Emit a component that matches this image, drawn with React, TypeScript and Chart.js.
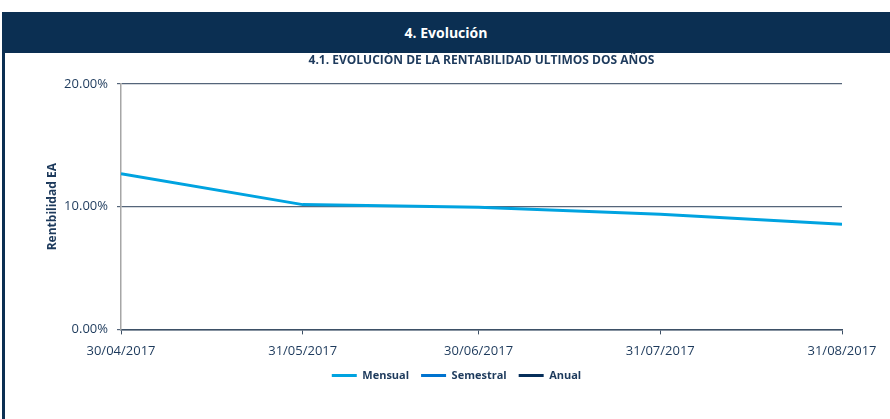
import React, { useEffect, useRef } from "react";
import { Chart, registerables } from "chart.js";

Chart.register(...registerables);

const dateLabels = ["30/04/2017", "31/05/2017", "30/06/2017", "31/07/2017", "31/08/2017"];
const mensual = [12.68, 10.17, 9.95, 9.38, 8.56];
const semestral: (number | null)[] = [null, null, null, null, null];
const anual: (number | null)[] = [null, null, null, null, null];
const yTicks = [0, 10, 20];

const NAVY = "#0b2f52";
const TEXT = "#1d3a5c";
const FONT = "'Open Sans', sans-serif";

function parseDate(s: string) {
  const [d, m, y] = s.split("/").map(Number);
  return Date.UTC(y, m - 1, d);
}
const day0 = parseDate(dateLabels[0]);
const dayX = dateLabels.map((s) => Math.round((parseDate(s) - day0) / 86400000));

const legendShift = {
  id: "legendShift",
  afterLayout(chart: any) {
    if (chart.legend) {
      chart.legend.left += 15;
      chart.legend.right += 15;
      chart.legend.top -= 10;
      chart.legend.bottom -= 10;
    }
  },
};

export default function App() {
  const ref = useRef<HTMLCanvasElement>(null);
  useEffect(() => {
    document.body.style.margin = "0";
    const toPts = (arr: (number | null)[]) => arr.map((v, i) => ({ x: dayX[i], y: v }));
    const chart = new Chart(ref.current!, {
      type: "line",
      data: {
        datasets: [
          { label: "Mensual", data: toPts(mensual), borderColor: "#00a3e0", backgroundColor: "#00a3e0", borderWidth: 3, pointRadius: 0, tension: 0 },
          { label: "Semestral", data: toPts(semestral), borderColor: "#0073cf", backgroundColor: "#0073cf", borderWidth: 3, pointRadius: 0 },
          { label: "Anual", data: toPts(anual), borderColor: "#062f5a", backgroundColor: "#062f5a", borderWidth: 3, pointRadius: 0 },
        ],
      },
      plugins: [legendShift],
      options: {
        animation: false,
        responsive: false,
        maintainAspectRatio: false,
        layout: { padding: { left: 41, right: 48, top: 31, bottom: 18 } },
        plugins: {
          title: { display: false },
          tooltip: { enabled: false },
          legend: {
            position: "bottom",
            labels: {
              boxWidth: 25,
              boxHeight: 3,
              padding: 12,
              color: TEXT,
              font: { family: FONT, size: 11, weight: "bold" },
              generateLabels: (c: any) => {
                const items = Chart.defaults.plugins.legend.labels.generateLabels(c);
                return items.map((it: any) => ({ ...it, lineWidth: 0 }));
              },
            },
          },
        },
        scales: {
          x: {
            type: "linear",
            min: dayX[0],
            max: dayX[dayX.length - 1],
            afterBuildTicks: (s: any) => {
              s.ticks = dayX.map((v) => ({ value: v }));
            },
            ticks: {
              autoSkip: false,
              maxRotation: 0,
              padding: 9,
              color: TEXT,
              font: { family: FONT, size: 13 },
              callback: (v: any) => dateLabels[dayX.indexOf(Number(v))] ?? "",
            },
            grid: { drawOnChartArea: false, drawTicks: true, tickLength: 5, color: "#3d5066" },
            border: { color: "#3d5066", width: 1.5 },
          },
          y: {
            min: 0,
            max: 20,
            afterBuildTicks: (s: any) => {
              s.ticks = yTicks.map((v) => ({ value: v }));
            },
            afterFit: (s: any) => {
              s.width = 80;
            },
            ticks: {
              padding: 9,
              color: TEXT,
              font: { family: FONT, size: 13 },
              callback: (v: any) => Number(v).toFixed(2) + "%",
            },
            grid: { color: "#55657a", lineWidth: 1.2, tickLength: 4 },
            border: { color: "#a6a6a6", width: 1.5 },
            title: {
              display: true,
              text: "Rentbilidad EA",
              color: TEXT,
              padding: 4,
              font: { family: FONT, size: 12, weight: "bold" },
            },
          },
        },
      },
    });
    return () => chart.destroy();
  }, []);

  return (
    <div style={{ position: "absolute", left: 0, top: 0, width: 890, height: 419, background: "#fff", overflow: "hidden" }}>
      <div
        style={{
          position: "absolute", left: 2, top: 12, width: 888, height: 41, background: NAVY,
          color: "#fff", fontFamily: FONT, fontWeight: "bold", fontSize: 14,
          display: "flex", alignItems: "center", justifyContent: "center",
        }}
      >
        4. Evolución
      </div>
      <div style={{ position: "absolute", left: 2, top: 53, width: 3, height: 366, background: NAVY }} />
      <canvas ref={ref} width={890} height={366} style={{ position: "absolute", left: 0, top: 53, width: 890, height: 366 }} />
      <div
        style={{
          position: "absolute", left: 121, top: 51, width: 721, textAlign: "center",
          fontFamily: FONT, fontWeight: "bold", fontSize: 12, color: TEXT, lineHeight: "18px",
        }}
      >
        4.1. EVOLUCIÓN DE LA RENTABILIDAD ULTIMOS DOS AÑOS
      </div>
    </div>
  );
}
